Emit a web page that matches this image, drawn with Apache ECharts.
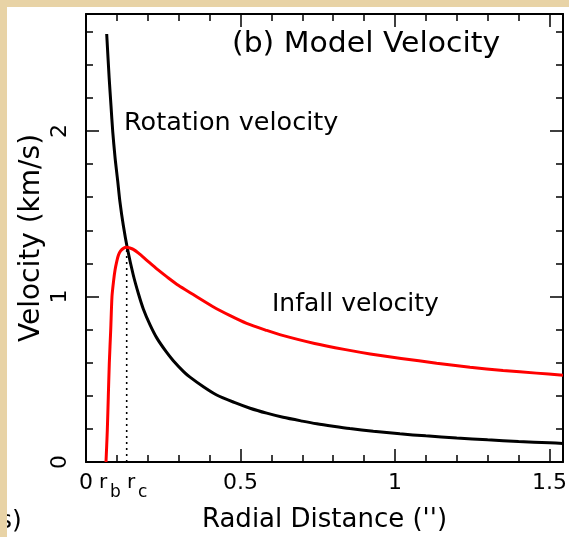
<!DOCTYPE html>
<html><head><meta charset="utf-8">
<script src="https://cdn.jsdelivr.net/npm/echarts@6/dist/echarts.min.js"></script>
<style>
html,body{margin:0;padding:0;width:569px;height:537px;background:#e8d3a6;overflow:hidden}
#c{position:absolute;left:7px;top:7px;width:562px;height:530px;background:#fff}
</style></head><body><div id="c"></div>
<script>
// Rotation velocity (black)
const rotR = [0.067,0.075,0.081,0.0864,0.094,0.1025,0.11,0.1207,0.134,0.153,0.17,0.1855,0.207,0.229,0.26,0.2826,0.315,0.3366,0.38,0.423,0.48,0.531,0.585,0.638,0.7,0.747,0.8,0.854,0.93,1.016,1.1,1.2,1.3,1.4,1.5,1.544];
const rotV = [2.586,2.32,2.15,2.0,1.84,1.70,1.57,1.43,1.29,1.13,1.015,0.925,0.83,0.75,0.665,0.612,0.548,0.513,0.455,0.405,0.36,0.325,0.295,0.27,0.247,0.231,0.216,0.202,0.186,0.17,0.158,0.145,0.134,0.124,0.116,0.112];
// Infall velocity (red)
const infR = [0.0647,0.067,0.069,0.0722,0.0754,0.080,0.0841,0.089,0.094,0.1,0.105,0.112,0.121,0.1317,0.142,0.153,0.17,0.196,0.23,0.261,0.30,0.34,0.41,0.465,0.52,0.585,0.63,0.74,0.84,0.92,1.02,1.135,1.243,1.35,1.458,1.544];
const infV = [0,0.10,0.193,0.395,0.596,0.798,1.0,1.09,1.16,1.215,1.25,1.275,1.291,1.297,1.293,1.285,1.262,1.22,1.165,1.12,1.066,1.02,0.94,0.886,0.838,0.795,0.768,0.716,0.679,0.653,0.626,0.597,0.573,0.553,0.537,0.524];
// r_c marker
const rc = 0.1317;
const rcPeak = 1.297;
// axis ranges / ticks
const xMin = 0, xMax = 1.544, xMajor = 0.5, xMinor = 0.1;
const yMin = 0, yMax = 2.707, yMajor = 1, yMinor = 0.2;
const xTickLabels = ['0','0.5','1','1.5'];
const yTickValues = [0,1,2];
const yTickLabels = ['0','1','2'];
const title = '(b) Model Velocity';
const rotLabel = 'Rotation velocity';
const infLabel = 'Infall velocity';
const xName = 'Radial Distance (\'\')';
const yName = 'Velocity (km/s)';

const FONT = 'DejaVu Sans';
const zip = (a,b) => a.map((v,i)=>[v,b[i]]);

function xAx(pos, interval, len, major, labels){
  return {
    type:'value', position:pos, min:xMin, max:xMax, interval:interval,
    axisLine:{show:major, onZero:false, lineStyle:{color:'#000', width:2}},
    axisTick:{show:true, inside:true, length:len, lineStyle:{color:'#000', width:1.5}},
    axisLabel:{show:labels, color:'#000', fontFamily:FONT, fontSize:22, margin:10,
      formatter:v=>{const k=v/xMajor; return Math.abs(k-Math.round(k))<1e-6 ? xTickLabels[Math.round(k)] : '';}},
    splitLine:{show:false},
    name: labels ? xName : '', nameLocation:'middle', nameGap:45, nameMoveOverlap:false,
    nameTextStyle:{color:'#000', fontFamily:FONT, fontSize:26}
  };
}
function yAx(pos, interval, len, major, withName){
  return {
    type:'value', position:pos, min:yMin, max:yMax, interval:interval,
    axisLine:{show:major, onZero:false, lineStyle:{color:'#000', width:2}},
    axisTick:{show:true, inside:true, length:len, lineStyle:{color:'#000', width:1.5}},
    axisLabel:{show:false},
    splitLine:{show:false},
    name: withName ? yName : '', nameLocation:'middle', nameGap:40, nameRotate:90, nameMoveOverlap:false,
    nameTextStyle:{color:'#000', fontFamily:FONT, fontSize:28}
  };
}

const chart = echarts.init(document.getElementById('c'), null, {renderer:'canvas'});
const baseGraphic = [
  {type:'text', x:225, y:38, scaleX:1.067, style:{text:title, font:'28px "DejaVu Sans"', fill:'#000', verticalAlign:'middle'}},
  {type:'text', x:117, y:116, scaleX:1.02, style:{text:rotLabel, font:'25px "DejaVu Sans"', fill:'#000', verticalAlign:'middle'}},
  {type:'text', x:265, y:297, style:{text:infLabel, font:'25px "DejaVu Sans"', fill:'#000', verticalAlign:'middle'}},
  {type:'text', x:-8, y:514, style:{text:'s)', font:'25px "DejaVu Sans"', fill:'#000', verticalAlign:'middle'}},
  {type:'text', x:92, y:476, style:{text:'r', font:'20px "DejaVu Sans"', fill:'#000', verticalAlign:'middle'}},
  {type:'text', x:103, y:486, style:{text:'b', font:'17px "DejaVu Sans"', fill:'#000', verticalAlign:'middle'}},
  {type:'text', x:120, y:476, style:{text:'r', font:'20px "DejaVu Sans"', fill:'#000', verticalAlign:'middle'}},
  {type:'text', x:131, y:486, style:{text:'c', font:'17px "DejaVu Sans"', fill:'#000', verticalAlign:'middle'}}
];
chart.setOption({
  animation:false,
  backgroundColor:'transparent',
  grid:{left:79, top:7, right:6, bottom:75, containLabel:false, outerBoundsMode:'none'},
  xAxis:[
    xAx('bottom', xMajor, 13, true, true),
    xAx('bottom', xMinor, 7, false, false),
    xAx('top', xMajor, 13, true, false),
    xAx('top', xMinor, 7, false, false)
  ],
  yAxis:[
    yAx('left', yMajor, 13, true, true),
    yAx('left', yMinor, 7, false, false),
    yAx('right', yMajor, 13, true, false),
    yAx('right', yMinor, 7, false, false)
  ],
  series:[
    {type:'line', name:'rc', data:[[rc,0],[rc,rcPeak]], showSymbol:false, symbol:'none',
      lineStyle:{color:'#000', width:1.6, type:[2,4]}, z:1},
    {type:'line', name:'rotation', data:zip(rotR,rotV), showSymbol:false, symbol:'none',
      smooth:0.25, lineStyle:{color:'#000', width:3}, z:3},
    {type:'line', name:'infall', data:zip(infR,infV), showSymbol:false, symbol:'none',
      smooth:0.25, lineStyle:{color:'#f00', width:3}, z:4}
  ],
  graphic: baseGraphic
});
// rotated y tick labels placed through the axis scale
const yLabelGraphic = yTickValues.map((v,i)=>{
  const p = chart.convertToPixel({xAxisIndex:0, yAxisIndex:0}, [xMin, v]);
  return {type:'text', x:p[0]-26, y:p[1], rotation:Math.PI/2,
    style:{text:yTickLabels[i], font:'22px "DejaVu Sans"', fill:'#000', align:'center', verticalAlign:'middle'}};
});
chart.setOption({graphic: baseGraphic.concat(yLabelGraphic)});
</script></body></html>
